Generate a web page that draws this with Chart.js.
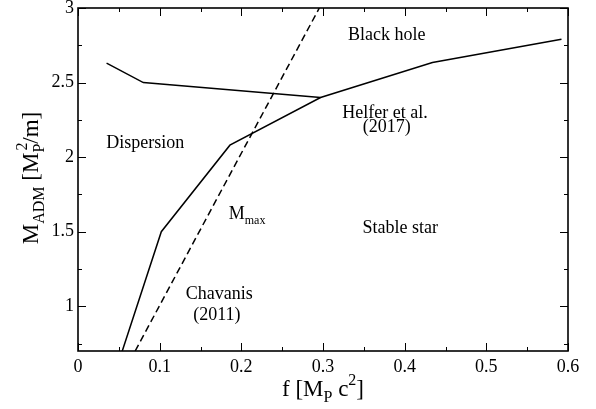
<!DOCTYPE html>
<html>
<head>
<meta charset="utf-8">
<script src="https://cdn.jsdelivr.net/npm/chart.js@4.4.1/dist/chart.umd.min.js"></script>
<style>
  html, body { margin: 0; padding: 0; background: #fff; }
  canvas { display: block; }
</style>
</head>
<body>
<canvas id="phaseChart" width="596" height="409"></canvas>
<script>
// axis ticks
const xTicks = [0, 0.1, 0.2, 0.3, 0.4, 0.5, 0.6];
const xTickLabels = ['0', '0.1', '0.2', '0.3', '0.4', '0.5', '0.6'];
const xMinor = [0.05, 0.15, 0.25, 0.35, 0.45, 0.55];
const yTicks = [1, 1.5, 2, 2.5, 3];
const yTickLabels = ['1', '1.5', '2', '2.5', '3'];
const yMinor = [0.75, 1.25, 1.75, 2.25, 2.75];

// dispersion / black hole boundary (upper left branch)
const upperX = [0.035, 0.080, 0.297];
const upperY = [2.63, 2.50, 2.40];

// dispersion / stable star / black hole boundary
const boundX = [0.053, 0.102, 0.186, 0.297, 0.434, 0.592];
const boundY = [0.68, 1.50, 2.08, 2.40, 2.635, 2.79];

// M_max line (dashed)
const mmaxX = [0.070, 0.2955];
const mmaxY = [0.70, 3.00];

const toPoints = (xs, ys) => xs.map((x, i) => ({x: x, y: ys[i]}));

const SERIF = "'Liberation Serif', 'DejaVu Serif', serif";

// draw text made of pieces, some of them sub/superscript
function drawRich(ctx, parts, size, cx, cy) {
    const small = Math.round(size * 0.68);
    let total = 0;
    const widths = parts.map(p => {
        ctx.font = (p.sub || p.sup ? small : size) + 'px ' + SERIF;
        let w = ctx.measureText(p.t).width;
        if (p.sup2) {
            ctx.font = small + 'px ' + SERIF;
            w = Math.max(w, ctx.measureText(p.sup2).width);
        }
        return w;
    });
    widths.forEach(w => total += w);
    let x = cx - total / 2;
    ctx.textBaseline = 'alphabetic';
    ctx.textAlign = 'left';
    const base = cy + size * 0.33;
    parts.forEach((p, i) => {
        ctx.font = (p.sub || p.sup ? small : size) + 'px ' + SERIF;
        let y = base;
        if (p.sub) y = base + size * 0.28;
        if (p.sup) y = base - size * 0.45;
        ctx.fillText(p.t, x, y);
        if (p.sup2) {
            ctx.font = small + 'px ' + SERIF;
            ctx.fillText(p.sup2, x + 2, base - size * 0.45);
        }
        x += widths[i];
    });
}

const regionLabels = [
    {x: 0.378, y: 2.82, text: 'Black hole'},
    {x: 0.376, y: 2.297, text: 'Helfer et al.'},
    {x: 0.378, y: 2.203, text: '(2017)'},
    {x: 0.0824, y: 2.096, text: 'Dispersion'},
    {x: 0.3945, y: 1.52, text: 'Stable star'},
    {x: 0.173, y: 1.08, text: 'Chavanis'},
    {x: 0.170, y: 0.94, text: '(2011)'}
];

const framePlugin = {
    id: 'frame',
    afterDraw(chart) {
        const ctx = chart.ctx;
        const a = chart.chartArea;
        const xs = chart.scales.x, ys = chart.scales.y;
        ctx.save();
        ctx.strokeStyle = '#000';
        ctx.lineWidth = 1.6;
        ctx.strokeRect(a.left, a.top, a.right - a.left, a.bottom - a.top);

        ctx.beginPath();
        const xTick = (v, len) => {
            const p = Math.round(xs.getPixelForValue(v)) + 0.5;
            ctx.moveTo(p, a.bottom); ctx.lineTo(p, a.bottom - len);
            ctx.moveTo(p, a.top); ctx.lineTo(p, a.top + len);
        };
        const yTick = (v, len) => {
            const p = Math.round(ys.getPixelForValue(v)) + 0.5;
            ctx.moveTo(a.left, p); ctx.lineTo(a.left + len, p);
            ctx.moveTo(a.right, p); ctx.lineTo(a.right - len, p);
        };
        xTicks.forEach(v => xTick(v, 8));
        xMinor.forEach(v => xTick(v, 4));
        yTicks.forEach(v => yTick(v, 8));
        yMinor.forEach(v => yTick(v, 4));
        ctx.lineWidth = 1;
        ctx.stroke();

        ctx.fillStyle = '#000';
        ctx.textAlign = 'center';
        ctx.textBaseline = 'middle';
        ctx.font = '18px ' + SERIF;
        regionLabels.forEach(l => {
            ctx.fillText(l.text, xs.getPixelForValue(l.x), ys.getPixelForValue(l.y));
        });

        // M_max label
        drawRich(ctx, [{t: 'M'}, {t: 'max', sub: true}], 18,
            xs.getPixelForValue(0.207), ys.getPixelForValue(1.625));

        // axis titles
        drawRich(ctx, [{t: 'f [M'}, {t: 'P', sub: true}, {t: ' c'}, {t: '2', sup: true}, {t: ']'}], 23,
            (a.left + a.right) / 2, 388);
        ctx.save();
        ctx.translate(30, 178);
        ctx.rotate(-Math.PI / 2);
        drawRich(ctx, [{t: 'M'}, {t: 'ADM', sub: true}, {t: ' [M'}, {t: 'P', sub: true, sup2: '2'}, {t: '/m]'}], 23, 0, 0);
        ctx.restore();
        ctx.restore();
    }
};

const lineStyle = {
    borderColor: '#000',
    borderWidth: 1.5,
    pointRadius: 0,
    fill: false,
    tension: 0
};

new Chart(document.getElementById('phaseChart').getContext('2d'), {
    type: 'line',
    data: {
        datasets: [
            Object.assign({label: 'upper', data: toPoints(upperX, upperY)}, lineStyle),
            Object.assign({label: 'boundary', data: toPoints(boundX, boundY)}, lineStyle),
            Object.assign({label: 'Mmax', data: toPoints(mmaxX, mmaxY), borderDash: [7, 4]}, lineStyle)
        ]
    },
    options: {
        responsive: false,
        animation: false,
        devicePixelRatio: 1,
        layout: { padding: { left: 0, right: 28, top: 8, bottom: 0 } },
        plugins: { legend: { display: false }, tooltip: { enabled: false } },
        scales: {
            x: {
                type: 'linear',
                min: 0, max: 0.6,
                grid: { display: false, drawTicks: false },
                border: { display: false },
                afterBuildTicks: s => { s.ticks = xTicks.map(v => ({value: v})); },
                ticks: {
                    padding: 5,
                    color: '#000',
                    font: { family: SERIF, size: 18 },
                    maxRotation: 0,
                    callback: (v, i) => xTickLabels[i]
                },
                afterFit: s => { s.height = 58; s.paddingLeft = 0; s.paddingRight = 0; }
            },
            y: {
                type: 'linear',
                min: 0.7, max: 3,
                grid: { display: false, drawTicks: false },
                border: { display: false },
                afterBuildTicks: s => { s.ticks = yTicks.map(v => ({value: v})); },
                ticks: {
                    padding: 4,
                    color: '#000',
                    font: { family: SERIF, size: 18 },
                    callback: (v, i) => yTickLabels[i]
                },
                afterFit: s => { s.width = 78; s.paddingTop = 0; s.paddingBottom = 0; }
            }
        }
    },
    plugins: [framePlugin]
});
</script>
</body>
</html>
